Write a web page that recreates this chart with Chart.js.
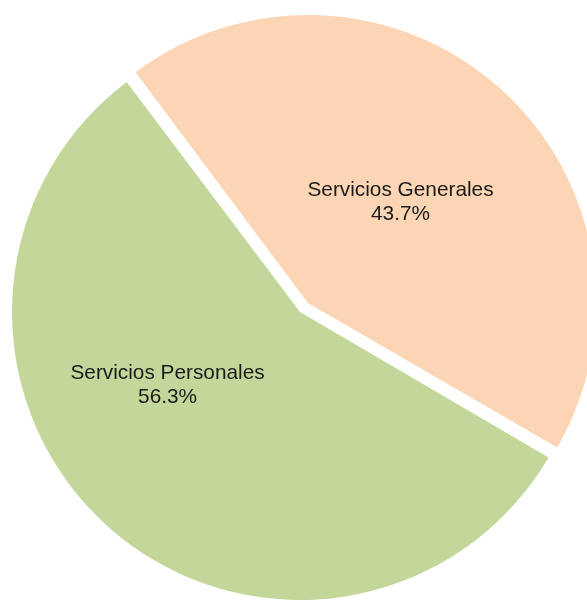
<!DOCTYPE html>
<html>
<head>
<meta charset="utf-8">
<script src="https://cdn.jsdelivr.net/npm/chart.js@4"></script>
<style>
  html, body { margin: 0; padding: 0; background: #fff; overflow: hidden; width: 587px; height: 601px; }
  #wrap { position: absolute; left: -12px; top: 0px; }
</style>
</head>
<body>
<div id="wrap"><canvas id="pieChart" width="624" height="624"></canvas></div>
<script>
// Data for the chart
const categories = ['Servicios Generales', 'Servicios Personales'];
const percentages = [43.7, 56.3];
const sliceColors = ['#FCD5B4', '#C4D79B'];
const sliceOffsets = [48, 0];

// where each label sits: angle shift from slice middle (deg) and fraction of radius
const labelPlacement = [
    { shift: 0.8, dist: 0.476 },
    { shift: 19.3, dist: 0.526 }
];

// Chart.js grows an exploded slice a bit; pull its radius back so both slices match
const keepRadius = {
    id: 'keepRadius',
    afterDatasetsUpdate(chart) {
        chart.getDatasetMeta(0).data.forEach(function (arc) {
            const off = (arc.options.offset || 0) / 4;
            if (!off) return;
            const fix = 1 - Math.sin(Math.min(Math.PI, arc.circumference));
            arc.outerRadius = arc.outerRadius - off * fix;
        });
    }
};

// Draw the category name and percentage inside each slice
const sliceLabels = {
    id: 'sliceLabels',
    afterDatasetsDraw(chart) {
        const ctx = chart.ctx;
        const meta = chart.getDatasetMeta(0);
        ctx.save();
        ctx.font = '20.8px "Liberation Sans", Arial, sans-serif';
        ctx.fillStyle = '#1a1a1a';
        ctx.textAlign = 'center';
        ctx.textBaseline = 'middle';
        meta.data.forEach(function (arc, i) {
            const p = arc.getProps(['x', 'y', 'startAngle', 'endAngle'], true);
            const mid = (p.startAngle + p.endAngle) / 2;
            const off = (arc.options.offset || 0) / 4;
            const cx = p.x + Math.cos(mid) * off;
            const cy = p.y + Math.sin(mid) * off;
            const a = mid + labelPlacement[i].shift * Math.PI / 180;
            const r = 288 * labelPlacement[i].dist;
            const lx = cx + Math.cos(a) * r;
            const ly = cy + Math.sin(a) * r;
            ctx.fillText(categories[i], lx, ly - 12);
            ctx.fillText(percentages[i].toFixed(1) + '%', lx, ly + 12);
        });
        ctx.restore();
    }
};

const ctx1 = document.getElementById('pieChart').getContext('2d');
new Chart(ctx1, {
    type: 'pie',
    data: {
        labels: categories,
        datasets: [{
            data: percentages,
            backgroundColor: sliceColors,
            borderWidth: 0,
            offset: sliceOffsets,
            hoverOffset: 0
        }]
    },
    options: {
        responsive: false,
        animation: false,
        events: [],
        rotation: -37,
        layout: { padding: 0 },
        plugins: {
            legend: { display: false },
            tooltip: { enabled: false }
        }
    },
    plugins: [keepRadius, sliceLabels]
});
</script>
</body>
</html>
